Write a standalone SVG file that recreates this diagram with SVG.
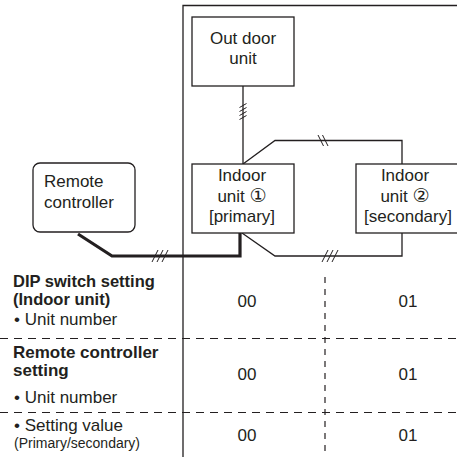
<svg xmlns="http://www.w3.org/2000/svg" width="457" height="457" viewBox="0 0 457 457">
<style>
.box{fill:#fff;stroke:#231f20;stroke-width:1.3}
.ln{fill:none;stroke:#231f20;stroke-width:1.3}
.thick{fill:none;stroke:#231f20;stroke-width:3.2;stroke-linejoin:miter}
.hatch{fill:none;stroke:#231f20;stroke-width:1}
.dash{fill:none;stroke:#231f20;stroke-width:1.2;stroke-dasharray:8 6}
.vdash{fill:none;stroke:#231f20;stroke-width:1.2;stroke-dasharray:6 6}
text{font-family:"Liberation Sans",Arial,sans-serif;font-size:17px;fill:#231f20}
.c{text-anchor:middle}
.b{font-weight:bold}
.bs{font-weight:bold;font-size:16.5px}
.s{font-size:14px}
.circ{font-family:"DejaVu Sans","Noto Sans CJK JP",sans-serif;font-size:19px}
</style>
<rect width="457" height="457" fill="#fff"/>
<g id="frame">
<path class="ln" d="M183,457 V5.5 H457"/>
</g>
<g id="connectors">
<path class="ln" d="M243,86 V164"/>
<path class="hatch" d="M239.5,107.5 L246.5,103.5 M239.5,111.5 L246.5,107.5 M239.5,115.5 L246.5,111.5 M239.5,119.5 L246.5,115.5"/>
<path class="ln" d="M243,164 L275,140.5 H402 V164"/>
<path class="hatch" d="M318,135 L323.5,146 M322.5,135 L328,146"/>
<path class="thick" d="M78,234 L112,256 H240 V233"/>
<path class="hatch" d="M152,262 L158,250 M157,262 L163,250 M162,262 L168,250"/>
<path class="ln" d="M242,233 L275,256 H402 V232"/>
<path class="hatch" d="M322,262 L328,250 M327,262 L333,250 M332,262 L338,250"/>
</g>
<g id="outdoor">
<rect class="box" x="192" y="17" width="102" height="69"/>
<text class="c" x="243" y="44">Out door</text>
<text class="c" x="243" y="64">unit</text>
</g>
<g id="remote">
<rect class="box" x="33" y="163" width="102" height="69" rx="7"/>
<text x="44" y="187">Remote</text>
<text x="44" y="208">controller</text>
</g>
<g id="indoor1">
<rect class="box" x="192" y="164" width="102" height="69"/>
<text class="c" x="242" y="181">Indoor</text>
<text class="c" x="242" y="202">unit <tspan class="circ">①</tspan></text>
<text class="c" x="242" y="222">[primary]</text>
</g>
<g id="indoor2">
<rect class="box" x="356" y="164" width="106" height="69"/>
<text class="c" x="405" y="181">Indoor</text>
<text class="c" x="405" y="202">unit <tspan class="circ">②</tspan></text>
<text class="c" x="408" y="222">[secondary]</text>
</g>
<g id="table">
<path class="vdash" d="M325,277 V457"/>
<path class="dash" d="M0,338.5 H457 M0,412.5 H457"/>
<text class="bs" x="13" y="287">DIP switch setting</text>
<text class="bs" x="13" y="305">(Indoor unit)</text>
<text x="14" y="325">• Unit number</text>
<text class="b" x="13" y="358">Remote controller</text>
<text class="b" x="13" y="376">setting</text>
<text x="14" y="403">• Unit number</text>
<text x="14" y="431">• Setting value</text>
<text class="s" x="14" y="448">(Primary/secondary)</text>
<text class="c" x="247" y="307">00</text>
<text class="c" x="408" y="307">01</text>
<text class="c" x="247" y="380">00</text>
<text class="c" x="408" y="380">01</text>
<text class="c" x="247" y="441">00</text>
<text class="c" x="408" y="441">01</text>
</g>
</svg>
